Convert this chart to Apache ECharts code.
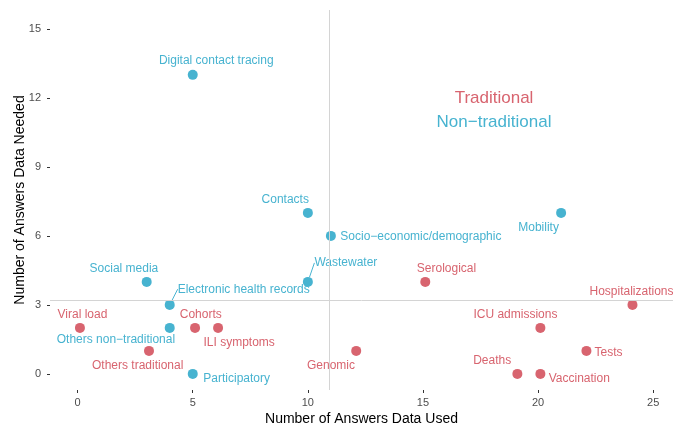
<!DOCTYPE html>
<html>
<head>
<meta charset="utf-8">
<script src="https://cdn.jsdelivr.net/npm/echarts@6/dist/echarts.min.js"></script>
<style>
  html, body { margin: 0; padding: 0; background: #fff; }
  #chart { width: 673px; height: 424px; }
</style>
</head>
<body>
<div id="chart"></div>
<script>
// data
const tradNames = ['Serological', 'Hospitalizations', 'Viral load', 'Cohorts', 'ILI symptoms',
  'Others traditional', 'Genomic', 'ICU admissions', 'Tests', 'Deaths', 'Vaccination'];
const tradUsed = [15.1, 24.1, 0.1, 5.1, 6.1, 3.1, 12.1, 20.1, 22.1, 19.1, 20.1];
const tradNeeded = [4, 3, 2, 2, 2, 1, 1, 2, 1, 0, 0];

const nonNames = ['Digital contact tracing', 'Contacts', 'Socio\u2212economic/demographic', 'Mobility',
  'Social media', 'Wastewater', 'Electronic health records', 'Others non\u2212traditional', 'Participatory'];
const nonUsed = [5, 10, 11, 21, 3, 10, 4, 4, 5];
const nonNeeded = [13, 7, 6, 7, 4, 4, 3, 2, 0];

const xTicks = [0, 5, 10, 15, 20, 25];
const yTicks = [0, 3, 6, 9, 12, 15];
const refUsed = 10.95;
const refNeeded = 3.22;

// label placement (px offsets from the point)
const labelShift = {
  'Digital contact tracing': [23.5, -13.7],
  'Contacts': [-22.6, -13.4],
  'Socio\u2212economic/demographic': [90, 1],
  'Mobility': [-22.5, 15.3],
  'Social media': [-22.8, -13],
  'Wastewater': [38, -19],
  'Electronic health records': [74, -15.7],
  'Others non\u2212traditional': [-53.8, 11.7],
  'Participatory': [43.9, 5],
  'Serological': [21.2, -13],
  'Hospitalizations': [-1, -13],
  'Viral load': [2.5, -13.3],
  'Cohorts': [5.7, -13.3],
  'ILI symptoms': [21.1, 14.4],
  'Others traditional': [-11.3, 15],
  'Genomic': [-25.2, 14.4],
  'ICU admissions': [-25, -13.3],
  'Tests': [22.1, 2],
  'Deaths': [-25.2, -13.3],
  'Vaccination': [38.9, 4.7]
};
const withLine = ['Wastewater', 'Electronic health records'];

const RED = '#D8646F';
const BLUE = '#47B3D0';
const FONT = 'Liberation Sans, Arial, sans-serif';

function points(names, xs, ys) {
  return names.map((n, i) => ({
    name: n,
    value: [xs[i], ys[i]],
    labelLine: { show: withLine.includes(n) }
  }));
}

function pointSeries(name, color, data) {
  return {
    name: name,
    type: 'scatter',
    symbolSize: 10,
    z: 3,
    itemStyle: { color: color, opacity: 1 },
    data: data,
    label: {
      show: true,
      position: 'inside',
      formatter: '{b}',
      color: color,
      fontFamily: FONT,
      fontSize: 12,
      align: 'center',
      verticalAlign: 'middle'
    },
    labelLine: { lineStyle: { color: color, width: 1 } },
    labelLayout: function (p) {
      const s = labelShift[p.text] || [0, 0];
      return { dx: s[0], dy: s[1] };
    },
    emphasis: { disabled: true }
  };
}

const chart = echarts.init(document.getElementById('chart'));
chart.setOption({
  animation: false,
  textStyle: { fontFamily: FONT },
  grid: { left: 50, right: 0, top: 10, bottom: 34, containLabel: false, outerBoundsMode: 'none' },
  xAxis: {
    type: 'value',
    min: -1.2,
    max: 25.86,
    name: 'Number of Answers Data Used',
    nameLocation: 'middle',
    nameGap: 22,
    nameMoveOverlap: false,
    nameTextStyle: { color: '#000', fontSize: 14, fontFamily: FONT },
    axisLine: { show: false, onZero: false },
    splitLine: { show: false },
    axisTick: { show: true, length: 3, customValues: xTicks, lineStyle: { color: '#333' } },
    axisLabel: { customValues: xTicks, color: '#4d4d4d', fontSize: 11, margin: 7, fontFamily: FONT }
  },
  yAxis: {
    type: 'value',
    min: -0.7,
    max: 15.82,
    name: 'Number of Answers Data Needed',
    nameLocation: 'middle',
    nameGap: 23,
    nameMoveOverlap: false,
    nameTextStyle: { color: '#000', fontSize: 14, fontFamily: FONT },
    axisLine: { show: false, onZero: false },
    splitLine: { show: false },
    axisTick: { show: true, length: 3, customValues: yTicks, lineStyle: { color: '#333' } },
    axisLabel: { customValues: yTicks, color: '#4d4d4d', fontSize: 11, margin: 9, fontFamily: FONT }
  },
  graphic: [
    { type: 'text', x: 494, y: 98, style: { text: 'Traditional', fill: RED, font: '17px ' + FONT, align: 'center', verticalAlign: 'middle' } },
    { type: 'text', x: 494, y: 122, style: { text: 'Non\u2212traditional', fill: BLUE, font: '17px ' + FONT, align: 'center', verticalAlign: 'middle' } }
  ],
  series: [
    {
      type: 'scatter',
      data: [],
      z: 1,
      silent: true,
      markLine: {
        silent: true,
        symbol: 'none',
        label: { show: false },
        lineStyle: { color: '#d4d4d4', width: 1, type: 'solid' },
        data: [{ xAxis: refUsed }, { yAxis: refNeeded }]
      }
    },
    pointSeries('Traditional', RED, points(tradNames, tradUsed, tradNeeded)),
    pointSeries('Non-traditional', BLUE, points(nonNames, nonUsed, nonNeeded))
  ]
});
</script>
</body>
</html>
